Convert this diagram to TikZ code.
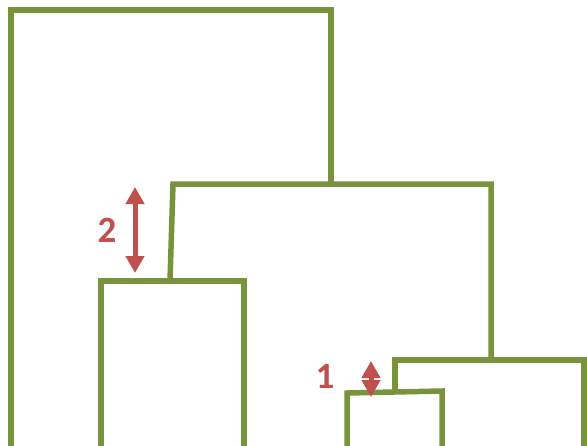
\documentclass[tikz,border=0pt]{standalone}
\usepackage{fontspec}
\setmainfont{Carlito}
\usetikzlibrary{arrows.meta}

\definecolor{treegreen}{HTML}{77933C}
\definecolor{gapred}{HTML}{C0504D}

\begin{document}
\begin{tikzpicture}[x=1pt, y=-1pt,
		link/.style={treegreen, line width=5.5pt, line join=miter},
		gap/.style={gapred, line width=5pt, {Triangle[length=17pt,width=18pt]}-{Triangle[length=17pt,width=18pt]}},
		gaplabel/.style={gapred, font=\fontsize{37}{37}\selectfont\bfseries}]
	\useasboundingbox (0,0) rectangle (587,445);
	
	\def\base{446};
	
	% merge heights
	\coordinate (top) at (331,10);
	\coordinate (mid) at (331,184);
	\coordinate (left) at (170,281);
	\coordinate (right) at (491,360);
	\coordinate (low) at (395,392);
	
	% outer merge
	\draw [link] (11,\base) -- (11,10) -- (top) -- (mid);
	
	% middle merge
	\draw [link] (left) -- (173,184) -- (491,184) -- (right);
	
	% leaves
	\draw [link] (101,\base) -- (101,281) -- (244,281) -- (244,\base);
	\draw [link] (low) -- (395,360) -- (584,360) -- (584,\base);
	\draw [link] (347,\base) -- (347,393) -- (442,391) -- (442,\base);
	
	% gaps between merges
	\coordinate (gap2 top) at (135,187);
	\coordinate (gap2 bottom) at (135,273);
	\coordinate (gap1 top) at (371,361);
	\coordinate (gap1 bottom) at (371,397);
	
	\draw [gap] (gap2 top) -- (gap2 bottom);
	\draw [gap] (gap1 top) -- (gap1 bottom);
	
	\node [gaplabel] (label2) at (107,230) {2};
	\node [gaplabel] (label1) at (325,376) {1};
\end{tikzpicture}
\end{document}
